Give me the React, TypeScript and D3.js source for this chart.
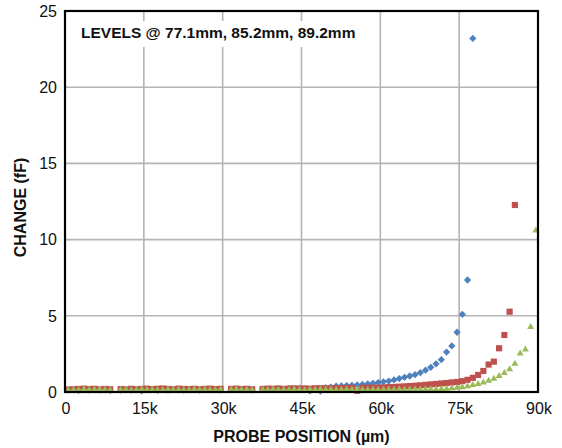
import React from "react";
import * as d3 from "d3";

// ---- data (change in fF vs probe position) ----
const X_START_UM = 600;
const X_STEP_UM = 1000;

const seriesNames = ["77.1mm", "85.2mm", "89.2mm"];
const seriesColors = ["#4F81BD", "#C0504D", "#9BBB59"];

const level771: (number | null)[] = [
  0.12, 0.14, 0.10, 0.15, 0.13, 0.16, 0.12, 0.14, 0.10, null,
  0.13, 0.15, 0.12, 0.16, 0.08, 0.14, 0.17, 0.10, 0.15, 0.13,
  0.16, 0.14, 0.12, 0.17, 0.15, 0.13, 0.18, 0.14, 0.16, 0.12,
  null, 0.15, 0.18, 0.14, 0.17, 0.13, null, 0.18, 0.20, 0.17,
  0.22, 0.19, 0.24, 0.21, 0.25, 0.22, 0.08, 0.20, 0.06, 0.28,
  0.32, 0.38, 0.40, 0.42, 0.44, 0.46, 0.50, 0.53, 0.57, 0.62,
  0.67, 0.72, 0.79, 0.88, 0.96, 1.05, 1.14, 1.27, 1.43, 1.62,
  1.85, 2.12, 2.62, 3.02, 3.92, 5.1, 7.35, 23.2,
];

const level852: (number | null)[] = [
  0.16, 0.18, 0.20, 0.22, 0.19, 0.21, 0.17, 0.20, 0.18, null,
  0.19, 0.17, 0.21, 0.18, 0.20, 0.22, 0.19, 0.21, 0.23, 0.20,
  0.18, 0.22, 0.20, 0.19, 0.21, 0.18, 0.20, 0.22, 0.19, 0.21,
  null, 0.20, 0.22, 0.19, 0.21, 0.18, null, 0.20, 0.22, 0.21,
  0.23, 0.20, 0.22, 0.24, 0.21, 0.23, 0.22, 0.24, 0.25, 0.23,
  0.24, 0.26, 0.25, 0.27, 0.26, 0.08, 0.27, 0.28, 0.29, 0.28,
  0.30, 0.32, 0.33, 0.35, 0.37, 0.39, 0.41, 0.44, 0.47, 0.50,
  0.53, 0.56, 0.59, 0.63, 0.66, 0.71, 0.80, 0.93, 1.12, 1.38,
  1.80, 1.99, 2.87, 3.74, 5.27, 12.27,
];

const level892: (number | null)[] = [
  0.15, 0.18, 0.16, 0.20, 0.17, 0.19, 0.21, 0.18, 0.16, null,
  0.17, 0.19, 0.16, 0.18, 0.20, 0.17, 0.19, 0.15, 0.18, 0.20,
  0.17, 0.19, 0.16, 0.18, 0.20, 0.17, 0.19, 0.18, 0.16, 0.19,
  null, 0.18, 0.20, 0.17, 0.19, 0.16, null, 0.19, 0.17, 0.20,
  0.18, 0.19, 0.17, 0.20, 0.18, 0.16, 0.19, 0.17, 0.20, 0.18,
  0.19, 0.17, 0.18, 0.20, 0.17, 0.19, 0.18, 0.17, 0.19, 0.18,
  0.17, 0.19, 0.18, 0.20, 0.18, 0.19, 0.20, 0.19, 0.21, 0.20,
  0.20, 0.22, 0.24, 0.27, 0.30, 0.34, 0.40, 0.48, 0.55, 0.65,
  0.76, 0.89, 1.07, 1.28, 1.52, 1.88, 2.55, 2.82, 4.29, 10.63,
];

const allSeries = [level771, level852, level892];

const xTickValues = [0, 15000, 30000, 45000, 60000, 75000, 90000];
const xTickLabels = ["0", "15k", "30k", "45k", "60k", "75k", "90k"];
const yTickValues = [0, 5, 10, 15, 20, 25];

const titleText = "LEVELS @ 77.1mm, 85.2mm, 89.2mm";
const xAxisTitle = "PROBE POSITION (\u00b5m)";
const yAxisTitle = "CHANGE (fF)";

// ---- layout ----
const W = 562;
const H = 448;
const plot = { left: 65, right: 538, top: 11, bottom: 392 };
const FONT = "'Liberation Sans', Arial, Helvetica, sans-serif";

// custom marker shapes
const diamond = {
  draw(ctx: any, size: number) {
    const r = (Math.sqrt(size) / 2) * 1.25;
    ctx.moveTo(0, -r);
    ctx.lineTo(r, 0);
    ctx.lineTo(0, r);
    ctx.lineTo(-r, 0);
    ctx.closePath();
  },
};
const square = {
  draw(ctx: any, size: number) {
    const s = Math.sqrt(size) / 2;
    ctx.rect(-s, -s, 2 * s, 2 * s);
  },
};
const triangle = {
  draw(ctx: any, size: number) {
    const s = Math.sqrt(size) * 1.1;
    const h = (s * Math.sqrt(3)) / 2;
    ctx.moveTo(0, -h * 0.6);
    ctx.lineTo(s / 2, h * 0.4);
    ctx.lineTo(-s / 2, h * 0.4);
    ctx.closePath();
  },
};
const markerTypes = [diamond, square, triangle];
const markerSizes = [34, 38, 40];

export default function App() {
  const x = d3.scaleLinear().domain([0, 90000]).range([plot.left, plot.right]);
  const y = d3.scaleLinear().domain([0, 25]).range([plot.bottom, plot.top]);

  const gridX = xTickValues.filter((v) => v > 0 && v < 90000);
  const gridY = yTickValues.filter((v) => v > 0 && v < 25);

  return (
    <svg
      width={W}
      height={H}
      viewBox={`0 0 ${W} ${H}`}
      style={{ position: "absolute", left: 0, top: 0, background: "#fff" }}
      fontFamily={FONT}
    >
      <rect x={0} y={0} width={W} height={H} fill="#fff" />
      {/* grid */}
      {gridX.map((v) => (
        <line key={"gx" + v} x1={x(v)} x2={x(v)} y1={plot.top} y2={plot.bottom} stroke="#b4b4b4" strokeWidth={1.6} />
      ))}
      {gridY.map((v) => (
        <line key={"gy" + v} x1={plot.left} x2={plot.right} y1={y(v)} y2={y(v)} stroke="#b4b4b4" strokeWidth={1.6} />
      ))}
      {/* title box */}
      <rect x={plot.left + 1} y={21} width={302} height={26} fill="#fff" />
      <text x={81} y={37.5} fontSize={15.5} fontWeight="bold" fill="#111">
        {titleText}
      </text>
      {/* points */}
      {allSeries.map((vals, si) => {
        const sym = d3.symbol().type(markerTypes[si] as any).size(markerSizes[si]);
        const d = sym() as string;
        return (
          <g key={seriesNames[si]} fill={seriesColors[si]}>
            {vals.map((v, i) =>
              v == null ? null : (
                <path
                  key={i}
                  d={d}
                  transform={`translate(${x(X_START_UM + i * X_STEP_UM)},${y(v)})`}
                />
              )
            )}
          </g>
        );
      })}
      {/* frame */}
      <rect
        x={plot.left}
        y={plot.top}
        width={plot.right - plot.left}
        height={plot.bottom - plot.top}
        fill="none"
        stroke="#000"
        strokeWidth={2.2}
      />
      {/* y ticks */}
      {yTickValues.map((v) => (
        <text key={"yt" + v} x={57} y={y(v)} dy="0.36em" textAnchor="end" fontSize={16} fill="#111">
          {v}
        </text>
      ))}
      {/* x ticks */}
      {xTickValues.map((v, i) => (
        <text key={"xt" + v} x={x(v) + 1} y={414} textAnchor="middle" fontSize={16} fill="#111">
          {xTickLabels[i]}
        </text>
      ))}
      <text x={(plot.left + plot.right) / 2} y={442} textAnchor="middle" fontSize={16} fontWeight="bold" fill="#111">
        {xAxisTitle}
      </text>
      <text
        transform={`translate(26,${(plot.top + plot.bottom) / 2 + 6}) rotate(-90)`}
        textAnchor="middle"
        fontSize={16}
        fontWeight="bold"
        fill="#111"
      >
        {yAxisTitle}
      </text>
    </svg>
  );
}
